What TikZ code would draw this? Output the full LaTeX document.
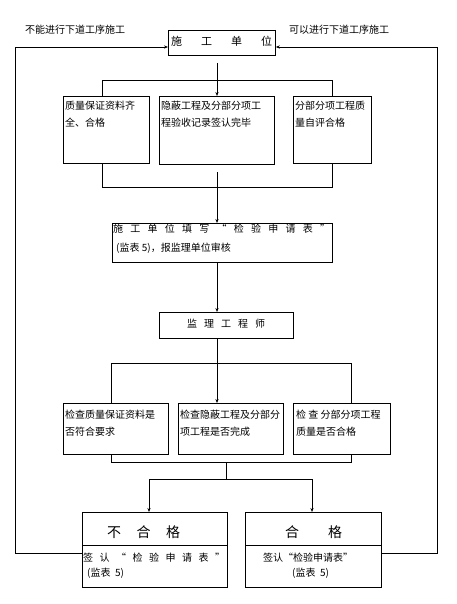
\documentclass[tikz,border=0pt]{standalone}
\usepackage{fontspec}
\setmainfont{Noto Sans CJK SC}
\usetikzlibrary{arrows.meta}
\begin{document}
\begin{tikzpicture}[x=1pt,y=-1pt,
  box/.style={draw, line width=0.8pt, inner sep=0pt, anchor=north west},
  ln/.style={line width=0.7pt},
  arr/.style={ln, -{Stealth[length=4pt,width=3.2pt]}},
  txt/.style={inner sep=0pt, align=left, anchor=north west, font=\fontsize{10}{17}\selectfont},
  ln1/.style={inner sep=0pt, anchor=west, font=\fontsize{10}{12}\selectfont},
  big/.style={inner sep=0pt, font=\fontsize{14}{16}\selectfont}]
\useasboundingbox (0,0) rectangle (457,604);

% boxes
\node[box, minimum width=107, minimum height=25] (T) at (168,30) {};
\node[box, minimum width=86, minimum height=67] (b1) at (63,96) {};
\node[box, minimum width=115, minimum height=68] (b2) at (159,96) {};
\node[box, minimum width=78, minimum height=67] (b3) at (293,96) {};
\node[box, minimum width=220, minimum height=39] (b4) at (112,223) {};
\node[box, minimum width=134, minimum height=26] (b5) at (159,312) {};
\node[box, minimum width=105, minimum height=51] (b6) at (63,403) {};
\node[box, minimum width=105, minimum height=51] (b7) at (178,403) {};
\node[box, minimum width=97, minimum height=51] (b8) at (293,403) {};
\node[box, minimum width=145, minimum height=75] (b9) at (82,512) {};
\node[box, minimum width=136, minimum height=75] (b10) at (245,512) {};
\foreach \n in {T,b1,b2,b3,b4,b5,b6,b7,b8,b9,b10}
  \draw[line width=1.3pt] (\n.north east) -- (\n.south east) -- (\n.south west);
\coordinate (d9) at (0,545);
\draw[line width=0.8pt] (b9.west |- d9) -- (b9.east |- d9);
\draw[line width=0.8pt] (b10.west |- d9) -- (b10.east |- d9);

% texts
\node[ln1, font=\fontsize{11}{12}\selectfont] (Tt) at (171,41) {\makebox[101pt][s]{施 工 单 位}};
\node[txt] (b1t) at (65,101) {质量保证资料齐\\全、合格};
\node[txt] (b2t) at (161,101) {隐蔽工程及分部分项工\\程验收记录签认完毕};
\node[txt] (b3t) at (295,101) {分部分项工程质\\量自评合格};
\node[ln1] (b4a) at (113,229) {\makebox[217pt][s]{施 工 单 位 填 写 “ 检 验 申 请 表 ”}};
\node[ln1] (b4b) at (116,248) {(监表 5)，报监理单位审核};
\node[ln1] (b5t) at (187,324) {\makebox[78pt][s]{监 理 工 程 师}};
\node[txt] (b6t) at (65,410) {检查质量保证资料是\\否符合要求};
\node[txt] (b7t) at (180,410) {检查隐蔽工程及分部分\\项工程是否完成};
\node[txt] (b8t) at (296,410) {检 查 分部分项工程\\质量是否合格};
\node[big, anchor=west] (b9t) at (107,532) {\makebox[73pt][s]{不 合 格}};
\node[big, anchor=west] (b10t) at (285,532) {\makebox[57pt][s]{合 格}};
\node[ln1] (b9a) at (83,558) {\makebox[142pt][s]{签 认 “ 检 验 申 请 表 ”}};
\node[ln1] (b9b) at (87,573.5) {(监表 \ 5)};
\node[ln1] (b10a) at (263,558) {签认“检验申请表”};
\node[ln1] (b10b) at (292,573.5) {(监表 \ 5)};
\node[ln1] (lbl) at (25,30) {不能进行下道工序施工};
\node[ln1] (lbr) at (289,30) {可以进行下道工序施工};

% connectors
\coordinate (t1) at (217,63);
\coordinate (j1) at (217,80);
\coordinate (j1l) at (102,80);
\coordinate (j1r) at (332,80);
\draw[ln] (t1) -- (j1);
\draw[ln] (j1l |- b1.north) -- (j1l) -- (j1r) -- (j1r |- b3.north);
\draw[arr] (j1) -- (j1 |- b2.north);

\coordinate (k1l) at (102,187);
\coordinate (k1r) at (332,187);
\coordinate (m1) at (217,172);
\draw[ln] (k1l |- b1.south) -- (k1l) -- (k1r) -- (k1r |- b3.south);
\draw[arr] (m1) -- (m1 |- b4.north);
\draw[arr] (m1 |- b4.south) -- (m1 |- b5.north);

\coordinate (j2) at (217,363);
\coordinate (j2l) at (111,363);
\coordinate (j2r) at (351,363);
\draw[ln] (m1 |- b5.south) -- (j2);
\draw[ln] (j2l |- b6.north) -- (j2l) -- (j2r) -- (j2r |- b8.north);
\draw[arr] (j2) -- (j2 |- b7.north);

\coordinate (k2l) at (111,462);
\coordinate (k2r) at (351,462);
\coordinate (k2m) at (226,462);
\coordinate (j3) at (226,479);
\coordinate (j3l) at (149,479);
\coordinate (j3r) at (312,479);
\draw[ln] (k2l |- b6.south) -- (k2l) -- (k2r) -- (k2r |- b8.south);
\draw[ln] (k2m) -- (j3);
\draw[ln] (j3l) -- (j3r);
\draw[arr] (j3l) -- (j3l |- b9.north);
\draw[arr] (j3r) -- (j3r |- b10.north);

\coordinate (fl) at (15,553);
\coordinate (flt) at (15,47);
\coordinate (fr) at (437,553);
\coordinate (frt) at (437,47);
\draw[arr] (fl -| b9.west) -- (fl) -- (flt) -- (flt -| T.west);
\draw[arr] (fr -| b10.east) -- (fr) -- (frt) -- (frt -| T.east);
\end{tikzpicture}
\end{document}
